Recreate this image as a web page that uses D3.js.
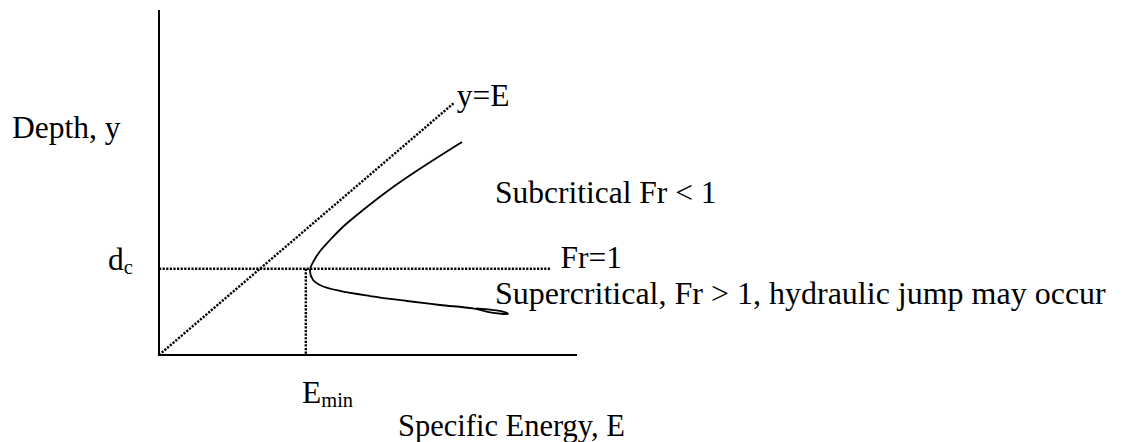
<!DOCTYPE html>
<meta charset="utf-8">
<style>
  body { margin: 0; background: #fff; }
  text { font-family: "Liberation Serif", "Times New Roman", serif; fill: #000; }
</style>
<body>
<script src="https://cdn.jsdelivr.net/npm/d3@7"></script>
<script>

    var width = 1122,
        height = 442;

    // specific energy curve (E, y)
    var curveE = [2.972, 2.540, 2.256, 2.001, 1.824, 1.677, 1.589, 1.523, 1.481,
                  1.511, 1.599, 1.775, 2.070, 2.433, 2.756, 3.080, 3.247, 3.423, 3.374, 3.109];
    var curveY = [2.445, 2.123, 1.894, 1.664, 1.492, 1.320, 1.205, 1.090, 0.976,
                  0.861, 0.792, 0.735, 0.677, 0.620, 0.574, 0.534, 0.490, 0.471, 0.497, 0.534];

    var yc = 0.99;       // critical depth
    var Emin = 1.44;     // minimum specific energy
    var diagMax = 2.9;   // end of y = E line
    var frLineEnd = 3.84;

    var labels = ["Depth, y", "Specific Energy, E", "y=E", "Fr=1",
                  "Subcritical Fr < 1", "Supercritical, Fr > 1, hydraulic jump may occur"];

    var x = d3.scaleLinear().domain([0, 4.1]).range([159, 577]);
    var y = d3.scaleLinear().domain([0, 3.96]).range([355, 10]);

    var svg = d3.select("body").append("svg")
            .attr("width", width)
            .attr("height", height);

    // axes, no ticks
    svg.append("line")
            .attr("x1", x(0)).attr("y1", y(0))
            .attr("x2", x(0)).attr("y2", y(3.96))
            .attr("stroke", "#000").attr("stroke-width", 2);
    svg.append("line")
            .attr("x1", x(0) - 1).attr("y1", y(0))
            .attr("x2", x(4.1)).attr("y2", y(0))
            .attr("stroke", "#000").attr("stroke-width", 2);

    //虚线: y=E, Fr=1 和 Emin
    var dotted = [
        [[0, 0], [diagMax, diagMax]],
        [[0, yc], [frLineEnd, yc]],
        [[Emin, yc], [Emin, 0]]
    ];
    var line = d3.line().x(function(d) { return x(d[0]); }).y(function(d) { return y(d[1]); });

    svg.selectAll(".dot")
            .data(dotted)
            .enter().append("path")
            .attr("class", "dot")
            .attr("d", line)
            .attr("fill", "none")
            .attr("stroke", "#000")
            .attr("stroke-width", 2.4)
            .attr("stroke-dasharray", "2.2,1.4");

    var pts = curveE.map(function(e, i) { return [e, curveY[i]]; });
    svg.append("path")
            .attr("d", line.curve(d3.curveCatmullRom.alpha(0.5))(pts))
            .attr("fill", "none")
            .attr("stroke", "#000")
            .attr("stroke-width", 1.8);

    var fs = 31.5;
    function label(txt, px, py, size) {
        return svg.append("text").attr("x", px).attr("y", py)
                .attr("font-size", size || fs).text(txt);
    }

    label(labels[0], 12, 138);
    label(labels[1], 398, 436, 30.5);
    label(labels[2], x(diagMax) + 2, 106);
    label(labels[3], x(frLineEnd) + 10, 268);
    label(labels[4], 495, 203);
    label(labels[5], 495, 304, 32);

    // d_c and E_min with subscripts
    var dc = label("d", 108, 270);
    dc.append("tspan").attr("font-size", fs * 0.65).attr("dy", 4).text("c");
    var em = label("E", 302, 403);
    em.append("tspan").attr("font-size", fs * 0.65).attr("dy", 4).text("min");

</script>
